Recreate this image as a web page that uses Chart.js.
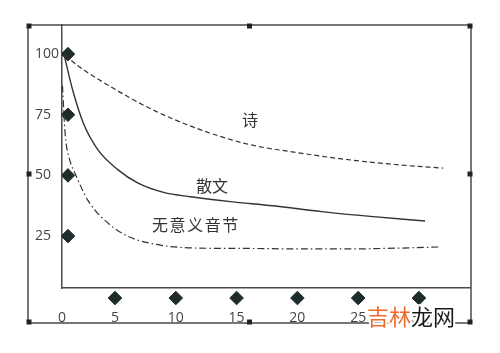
<!DOCTYPE html>
<html>
<head>
<meta charset="utf-8">
<script src="https://cdn.jsdelivr.net/npm/chart.js@4"></script>
<style>
  html, body { margin: 0; padding: 0; background: #fff; }
</style>
</head>
<body>
<canvas id="myChart" width="500" height="353"></canvas>
<script>
// axes range and ticks
const xMin = 0.64, xMax = 34.2
const yMin = 3.6, yMax = 112
const xTickValues = [xMin, 5, 10, 15, 20, 25, 30]
const xTickLabels = ['0', '5', '10', '15', '20', '25', '30']
const yTickValues = [25, 50, 75, 100]

// 诗 (dashed)
const shiX = [0.9, 2, 4, 8, 12, 16, 20, 24, 28, 32]
const shiY = [99.5, 95, 88.5, 77.3, 68.9, 62.8, 59.4, 56.6, 54.5, 53]

// 散文 (solid)
const sanwenX = [0.8, 1.5, 2.4, 3.6, 5.2, 6.9, 9, 11.2, 14.5, 18, 22, 26, 30.5]
const sanwenY = [100, 85.5, 71.5, 60.5, 52.5, 46.8, 43, 41.2, 39.2, 37.5, 35.1, 33.1, 31.2]

// 无意义音节 (dash-dot)
const wuyiX = [0.68, 0.9, 1.3, 1.7, 2.8, 4.6, 6.2, 8.7, 11.4, 16, 20, 24, 28, 31.6]
const wuyiY = [87, 67, 56, 51, 39.5, 29.6, 24.6, 21.3, 20.1, 19.9, 19.7, 19.7, 20, 20.5]

// diamond markers along both axes
const markYAxisX = 1.13
const markYAxisVals = [100, 75, 50, 25]
const markXAxisVals = [5, 10, 15, 20, 25, 30]
const markXAxisY = -0.54

const curveNames = ['诗', '散文', '无意义音节']

const toPts = (xs, ys) => xs.map((x, i) => ({ x: x, y: ys[i] }))

const ink = '#333'
const frameColor = '#4a4a4a'
const diamond = '#1e2c2c'

// outer frame with its small square handles
const framePlugin = {
  id: 'frame',
  afterDraw(chart) {
    const { ctx, chartArea: a } = chart
    const l = a.left - 34, r = a.right + 1, t = a.top, b = a.bottom + 35
    ctx.save()
    ctx.strokeStyle = frameColor
    ctx.lineWidth = 1.5
    ctx.strokeRect(l, t, r - l, b - t)
    ctx.fillStyle = '#222'
    const mx = (l + r) / 2, my = (t + b) / 2
    ;[[l + 1, t + 1], [mx, t + 1], [r - 1, t + 1], [l + 1, my], [r - 1, my], [l + 1, b - 1], [mx, b - 1], [r - 1, b - 1]].forEach(([x, y]) => {
      ctx.fillRect(x - 2.5, y - 2.5, 5, 5)
    })
    ctx.restore()
  }
}

// points that sit outside the plot area (diamonds under the x axis)
const outsidePlugin = {
  id: 'outsidePoints',
  afterDatasetsDraw(chart) {
    const { ctx } = chart
    chart.data.datasets.forEach((ds, i) => {
      if (ds.clip !== false) return
      chart.getDatasetMeta(i).data.forEach(p => p.draw(ctx))
    })
  }
}

// curve names written next to each curve
const labelPlugin = {
  id: 'curveLabels',
  afterDatasetsDraw(chart) {
    const { ctx, scales: { x, y } } = chart
    const at = [[16.1, 72.7], [12.98, 45.6], [11.66, 29.5]]
    ctx.save()
    ctx.fillStyle = ink
    ctx.textAlign = 'center'
    ctx.textBaseline = 'middle'
    ctx.font = '16px "Noto Sans CJK SC"'
    curveNames.forEach((n, i) => {
      ctx.letterSpacing = n.length > 2 ? '1.6px' : '0px'
      ctx.fillText(n, x.getPixelForValue(at[i][0]), y.getPixelForValue(at[i][1]))
    })
    ctx.restore()
  }
}

// watermark in the lower right corner
const markPlugin = {
  id: 'watermark',
  afterDraw(chart) {
    const { ctx } = chart
    const x0 = chart.width - 133, y0 = chart.height - 36
    ctx.save()
    ctx.font = '22px "Noto Sans CJK SC"'
    ctx.textBaseline = 'middle'
    ctx.lineWidth = 4
    ctx.strokeStyle = '#fff'
    ctx.strokeText('吉林龙网', x0, y0)
    ctx.fillStyle = '#ef6b2c'
    ctx.fillText('吉林', x0, y0)
    ctx.fillStyle = '#1a1a1a'
    ctx.fillText('龙网', x0 + ctx.measureText('吉林').width, y0)
    ctx.restore()
  }
}

const lineBase = {
  showLine: true,
  pointRadius: 0,
  borderColor: ink,
  borderWidth: 1.2,
  cubicInterpolationMode: 'monotone',
  fill: false
}

const ctx = document.getElementById('myChart')

new Chart(ctx, {
  type: 'scatter',
  data: {
    datasets: [
      Object.assign({}, lineBase, { label: curveNames[0], data: toPts(shiX, shiY), borderDash: [5, 3] }),
      Object.assign({}, lineBase, { label: curveNames[1], data: toPts(sanwenX, sanwenY), borderWidth: 1.4 }),
      Object.assign({}, lineBase, { label: curveNames[2], data: toPts(wuyiX, wuyiY), borderDash: [7, 3, 1.5, 3] }),
      {
        label: 'y marks',
        data: markYAxisVals.map(v => ({ x: markYAxisX, y: v })),
        pointStyle: 'rectRot',
        pointRadius: 6.8,
        backgroundColor: diamond,
        borderColor: diamond
      },
      {
        label: 'x marks',
        data: markXAxisVals.map(v => ({ x: v, y: markXAxisY })),
        pointStyle: 'rectRot',
        pointRadius: 6.8,
        backgroundColor: diamond,
        borderColor: diamond,
        clip: false
      }
    ]
  },
  options: {
    responsive: false,
    animation: false,
    events: [],
    layout: { padding: { left: 35, top: 25, right: 30, bottom: 25 } },
    plugins: {
      legend: { display: false },
      tooltip: { enabled: false }
    },
    scales: {
      x: {
        type: 'linear',
        min: xMin,
        max: xMax,
        grid: { display: false, drawTicks: false },
        border: { display: true, color: frameColor, width: 1.5 },
        afterBuildTicks: axis => { axis.ticks = xTickValues.map(v => ({ value: v })) },
        afterFit: axis => { axis.height = 40 },
        ticks: {
          padding: 22,
          color: '#444',
          font: { family: 'Open Sans', size: 14 },
          maxRotation: 0,
          autoSkip: false,
          callback: (v, i) => xTickLabels[i]
        }
      },
      y: {
        type: 'linear',
        min: yMin,
        max: yMax,
        grid: { display: false, drawTicks: false },
        border: { display: true, color: frameColor, width: 1.5 },
        afterBuildTicks: axis => { axis.ticks = yTickValues.map(v => ({ value: v })) },
        afterFit: axis => { axis.width = 27 },
        ticks: {
          crossAlign: 'far',
          color: '#444',
          font: { family: 'Open Sans', size: 14 },
          callback: v => String(v)
        }
      }
    }
  },
  plugins: [framePlugin, outsidePlugin, labelPlugin, markPlugin]
})
</script>
</body>
</html>
